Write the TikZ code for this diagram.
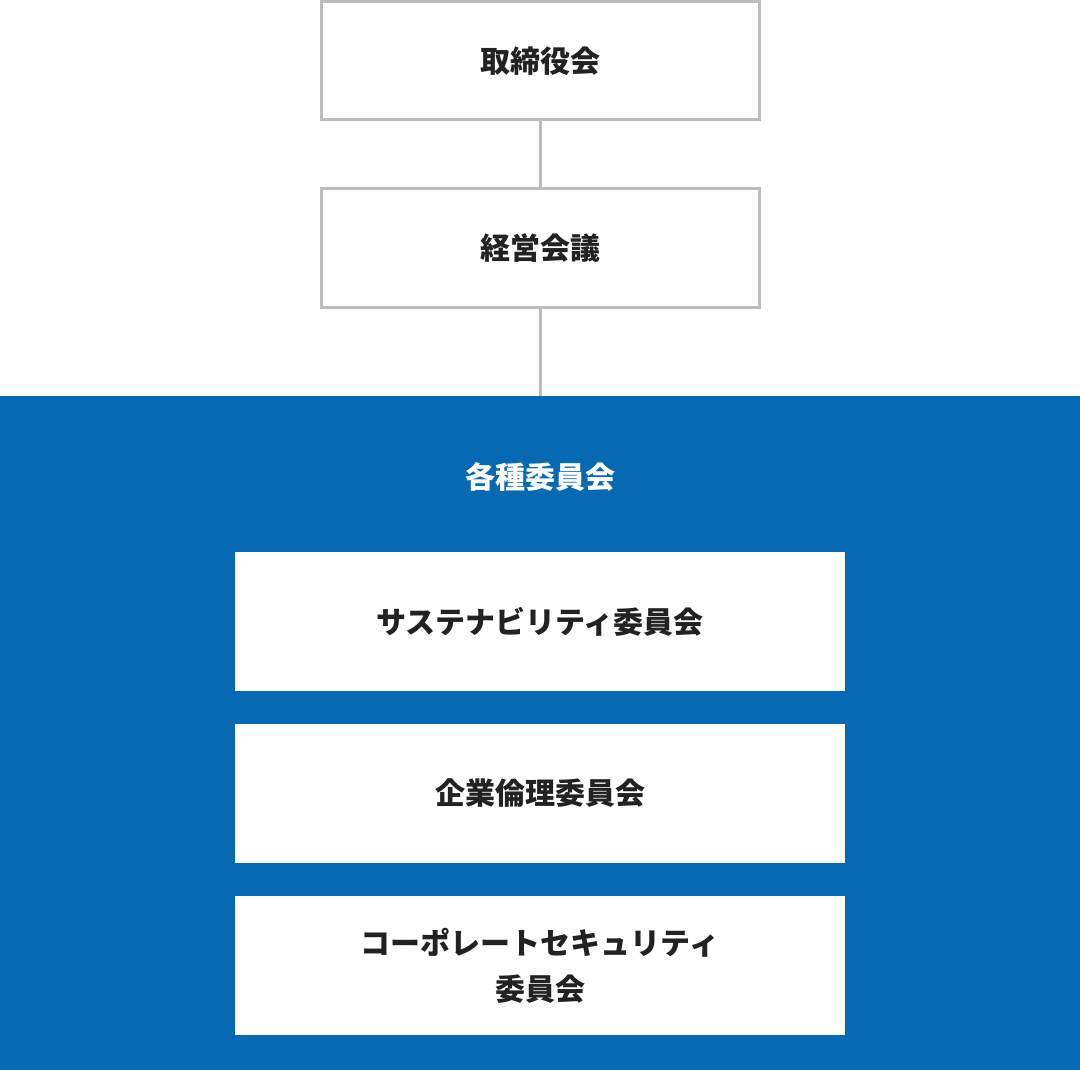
\documentclass[tikz,border=0pt]{standalone}
\usepackage{fontspec}
\setmainfont{Noto Sans CJK JP}
\definecolor{bl}{HTML}{0769B2}
\definecolor{gr}{HTML}{BDBDBD}
\definecolor{tx}{HTML}{222222}
\begin{document}
\begin{tikzpicture}[x=1pt,y=-1pt,
  topbox/.style={draw=gr,line width=3pt,fill=white,minimum width=438pt,minimum height=118pt,inner sep=0pt,font=\fontsize{30}{36}\selectfont\bfseries,text=tx},
  subbox/.style={fill=white,minimum width=610pt,minimum height=139pt,inner sep=0pt,align=center,font=\fontsize{30}{46}\selectfont\bfseries,text=tx},
  conn/.style={draw=gr,line width=3pt}]
\useasboundingbox (0,0) rectangle (1080,1070);
\fill[bl] (0,396) rectangle (1080,1070);
\node[topbox] (a) at (540,61) {取締役会};
\node[topbox] (b) at (540,248) {経営会議};
\coordinate (c) at (540,396);
\draw[conn] (a.south) -- (b.north);
\draw[conn] (b.south) -- (c);
\node[text=white,font=\fontsize{30}{36}\selectfont\bfseries] (t) at (540,477) {各種委員会};
\node[subbox] (s1) at (540,621.5) {サステナビリティ委員会};
\node[subbox] (s2) at (540,793.5) {企業倫理委員会};
\node[subbox] (s3) at (540,965.5) {コーポレートセキュリティ\\委員会};
\end{tikzpicture}
\end{document}
